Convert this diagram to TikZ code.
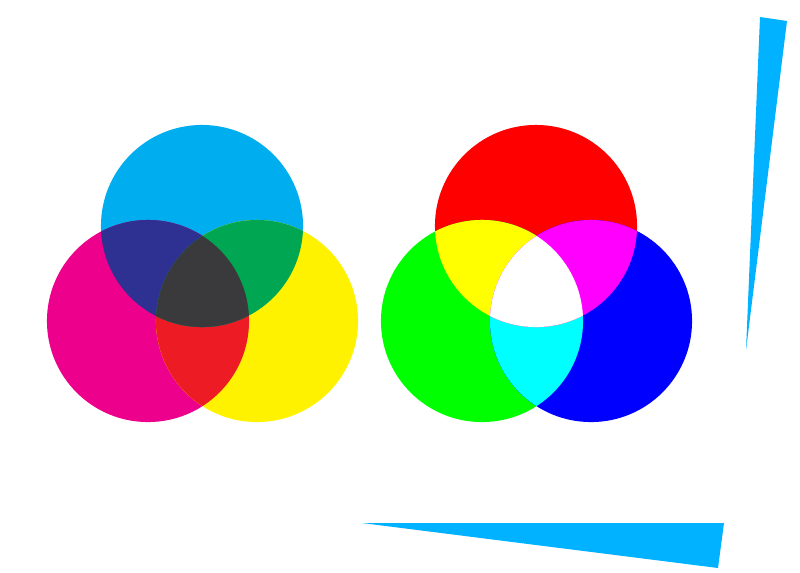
\documentclass[tikz,border=0pt]{standalone}
\usetikzlibrary{calc}
\definecolor{inkC}{HTML}{00AEEF}
\definecolor{inkM}{HTML}{EC008C}
\definecolor{inkY}{HTML}{FFF200}
\definecolor{inkCM}{HTML}{2E3192}
\definecolor{inkCY}{HTML}{00A651}
\definecolor{inkMY}{HTML}{ED1C24}
\definecolor{inkK}{HTML}{3A393B}
\definecolor{lightR}{HTML}{FF0000}
\definecolor{lightG}{HTML}{00FF00}
\definecolor{lightB}{HTML}{0000FF}
\definecolor{lightRG}{HTML}{FFFF00}
\definecolor{lightRB}{HTML}{FF00FF}
\definecolor{lightGB}{HTML}{00FFFF}
\definecolor{lightW}{HTML}{FFFFFF}
\definecolor{wedgeblue}{HTML}{00B2FF}

\begin{document}
\begin{tikzpicture}[x=0.01cm,y=-0.01cm]
	\tikzset{wedge/.style={fill=wedgeblue}}
	\useasboundingbox (0,0) rectangle (800,572);
	\def\rad{1.01cm}
	% subtractive
	\coordinate (c) at (202,226);
	\coordinate (m) at ($(c) + (-54,95)$);
	\coordinate (y) at ($(c) + (55,95)$);
	\fill[inkC] (c) circle (\rad);
	\fill[inkM] (m) circle (\rad);
	\fill[inkY] (y) circle (\rad);
	\begin{scope}
		\clip (m) circle (\rad);
		\fill[inkMY] (y) circle (\rad);
	\end{scope}
	\begin{scope}
		\clip (c) circle (\rad);
		\fill[inkCM] (m) circle (\rad);
		\fill[inkCY] (y) circle (\rad);
		\clip (m) circle (\rad);
		\fill[inkK] (y) circle (\rad);
	\end{scope}
	% additive
	\coordinate (r) at (536,226);
	\coordinate (g) at ($(r) + (-54,95)$);
	\coordinate (b) at ($(r) + (55,95)$);
	\fill[lightR] (r) circle (\rad);
	\fill[lightG] (g) circle (\rad);
	\fill[lightB] (b) circle (\rad);
	\begin{scope}
		\clip (g) circle (\rad);
		\fill[lightGB] (b) circle (\rad);
	\end{scope}
	\begin{scope}
		\clip (r) circle (\rad);
		\fill[lightRG] (g) circle (\rad);
		\fill[lightRB] (b) circle (\rad);
		\clip (g) circle (\rad);
		\fill[lightW] (b) circle (\rad);
	\end{scope}
	% wedges
	\coordinate (w1) at (760,17);
	\coordinate (w2) at (787,21);
	\coordinate (w3) at (746,350);
	\fill[wedge] (w1) -- (w2) -- (w3) -- cycle;
	\coordinate (v1) at (362,523);
	\coordinate (v2) at (724,523);
	\coordinate (v3) at (718,568);
	\fill[wedge] (v1) -- (v2) -- (v3) -- cycle;
\end{tikzpicture}
\end{document}
